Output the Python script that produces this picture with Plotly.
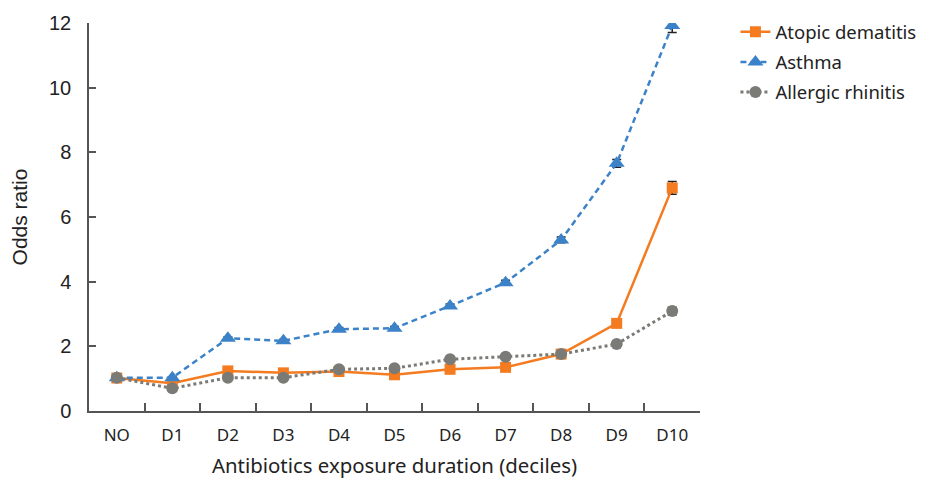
import plotly.graph_objects as go

categories = ["NO", "D1", "D2", "D3", "D4", "D5", "D6", "D7", "D8", "D9", "D10"]
atopic = [1.02, 0.86, 1.24, 1.18, 1.22, 1.12, 1.29, 1.35, 1.76, 2.71, 6.90]
atopic_err = [0.02, 0.02, 0.03, 0.03, 0.03, 0.03, 0.03, 0.04, 0.05, 0.08, 0.20]
asthma = [1.03, 1.03, 2.25, 2.17, 2.53, 2.56, 3.25, 3.97, 5.29, 7.66, 11.92]
asthma_err = [0.02, 0.02, 0.04, 0.04, 0.05, 0.05, 0.06, 0.07, 0.09, 0.12, 0.21]
rhinitis = [1.03, 0.70, 1.03, 1.03, 1.29, 1.32, 1.60, 1.68, 1.76, 2.07, 3.09]
rhinitis_err = [0.02, 0.02, 0.02, 0.02, 0.03, 0.03, 0.03, 0.03, 0.04, 0.05, 0.12]
y_ticks = [0, 2, 4, 6, 8, 10, 12]

ORANGE = "#F47B20"
BLUE = "#3C82C8"
GRAY = "#7A7A76"
AXIS = "#555555"
TEXT = "#222222"

fig = go.Figure()

def add(name, y, err, color, dash, symbol, size, width):
    fig.add_trace(go.Scatter(
        x=categories, y=y, name=name, mode="lines+markers", legendgroup=name,
        line=dict(color=color, width=width, dash=dash),
        marker=dict(symbol=symbol, size=size, color=color),
        error_y=dict(type="data", array=err, visible=True, color="#222222",
                     thickness=1.5, width=4.5),
    ))

add("Atopic dematitis", atopic, atopic_err, ORANGE, "solid", "square", 11, 2.5)
add("Asthma", asthma, asthma_err, BLUE, "6px,4px", "triangle-up", 14, 2.5)
add("Allergic rhinitis", rhinitis, rhinitis_err, GRAY, "3px,3px", "circle", 12, 3)

# page body has an 8px default margin; the figure is sized to fit the window
fig.update_layout(
    width=917, height=471,
    margin=dict(l=81, r=225, t=15, b=68, autoexpand=False),
    plot_bgcolor="white", paper_bgcolor="white",
    font=dict(family="Noto Sans, Liberation Sans, Arial", size=17, color=TEXT),
    legend=dict(x=1.058, y=1.025, xanchor="left", yanchor="top",
                font=dict(size=18.5, color=TEXT), tracegroupgap=3,
                itemwidth=30),
    showlegend=True,
)
fig.update_xaxes(
    type="category", range=[-0.5, 10.5], automargin=False,
    showline=True, linecolor=AXIS, linewidth=1.5,
    ticks="inside", tickson="boundaries", ticklen=8, tickcolor=AXIS, tickwidth=1.5,
    showgrid=False, zeroline=False, ticklabelstandoff=8,
    tickfont=dict(size=17, color=TEXT),
    title=dict(text="Antibiotics exposure duration (deciles)", font=dict(size=20.4, color=TEXT), standoff=16),
)
fig.update_yaxes(
    range=[0, 12], tickvals=y_ticks, automargin=False,
    showline=True, linecolor=AXIS, linewidth=1.5,
    ticks="inside", ticklen=7, tickcolor=AXIS, tickwidth=1.5,
    showgrid=False, zeroline=False, ticklabelstandoff=12,
    tickfont=dict(family="Liberation Sans, Arial", size=20, color=TEXT),
    title=dict(text="Odds ratio", font=dict(family="Liberation Sans, Arial", size=21, color=TEXT), standoff=18),
)

fig.write_html("out.html")
